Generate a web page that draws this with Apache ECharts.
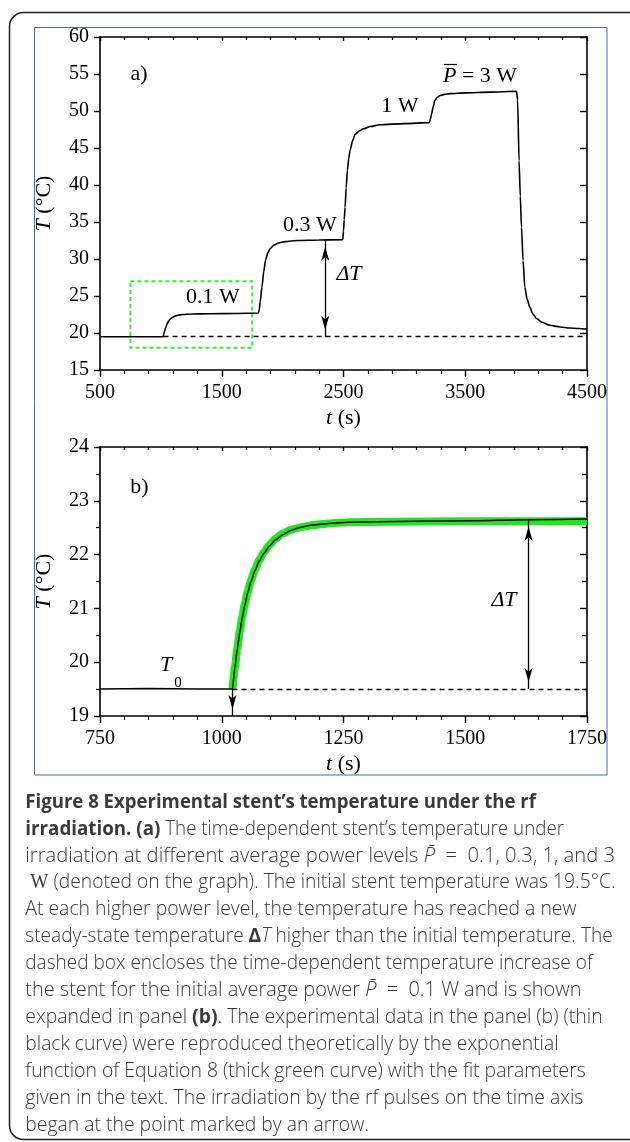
<!DOCTYPE html>
<html>
<head>
<meta charset="utf-8">
<script src="https://cdn.jsdelivr.net/npm/echarts@6/dist/echarts.min.js"></script>
<style>
  html, body { margin: 0; padding: 0; background: #fff; }
  #chart { width: 630px; height: 1142px; }
</style>
</head>
<body>
<div id="chart"></div>
<script>
// panel (a): stent temperature over the whole run (s, °C)
const timeA = [500, 1000, 1018, 1025, 1032, 1040, 1050, 1062, 1075, 1090,
  1110, 1140, 1180, 1250, 1400, 1600, 1802, 1808, 1816, 1830,
  1845, 1860, 1880, 1900, 1930, 1966, 2020, 2117, 2300, 2494,
  2500, 2506, 2513, 2522, 2532, 2543, 2554, 2575, 2595, 2630,
  2663, 2720, 2800, 3000, 3204, 3214, 3224, 3237, 3251, 3270,
  3292, 3330, 3374, 3500, 3700, 3921, 3930, 3942, 3952, 3962,
  3975, 3989, 4008, 4030, 4055, 4085, 4130, 4194, 4280, 4358,
  4430, 4500];
const tempA = [19.5, 19.5, 19.5, 19.85, 20.3, 20.75, 21.2, 21.6, 21.85, 22.05,
  22.25, 22.4, 22.5, 22.57, 22.6, 22.64, 22.7, 23.2, 24.2, 26.2,
  28.3, 29.9, 30.9, 31.45, 31.9, 32.16, 32.35, 32.5, 32.57, 32.6,
  33.8, 35.3, 37.0, 39.6, 42.0, 43.6, 44.7, 46.0, 46.85, 47.3,
  47.6, 47.9, 48.15, 48.3, 48.43, 48.9, 49.65, 50.6, 51.45, 51.85,
  52.1, 52.25, 52.35, 52.45, 52.55, 52.66, 51.5, 43.3, 38.5, 34.3,
  29.8, 26.2, 24.6, 23.5, 22.6, 21.95, 21.45, 21.04, 20.82, 20.68,
  20.6, 20.53];

// panel (b): the 0.1 W step, measured (thin black)
const timeB = [750, 850, 950, 1022, 1027, 1032, 1037, 1042, 1047, 1053,
  1060, 1068, 1077, 1087, 1098, 1110, 1125, 1142, 1162, 1188,
  1220, 1260, 1320, 1400, 1500, 1630, 1750];
const tempB = [19.5, 19.51, 19.5, 19.5, 19.9, 20.25, 20.55, 20.82, 21.05, 21.28,
  21.5, 21.7, 21.88, 22.03, 22.16, 22.27, 22.37, 22.45, 22.51, 22.55,
  22.58, 22.6, 22.61, 22.62, 22.63, 22.65, 22.66];

// panel (b): exponential fit (thick green)
const timeFit = [1022, 1027, 1032, 1037, 1042, 1047, 1053, 1060, 1068, 1077,
  1087, 1098, 1110, 1125, 1142, 1162, 1188, 1220, 1260, 1350, 1500, 1750];
const tempFit = [19.5, 19.9, 20.26, 20.57, 20.84, 21.07, 21.3, 21.52, 21.72, 21.9,
  22.05, 22.18, 22.29, 22.39, 22.46, 22.51, 22.55, 22.58, 22.6, 22.61, 22.62, 22.62];

// tick labels
const xTicksA = [500, 1500, 2500, 3500, 4500];
const yTicksA = [15, 20, 25, 30, 35, 40, 45, 50, 55, 60];
const xTicksB = [750, 1000, 1250, 1500, 1750];
const yTicksB = [19, 20, 21, 22, 23, 24];

// annotations
const T0 = 19.5;                 // initial temperature
const pulseStart = 1022;         // rf irradiation begins (arrow in b)
const arrowA = [2350, 32.6];     // ΔT arrow in (a)
const arrowB = [1630, 22.65];    // ΔT arrow in (b)
const zoomBox = [[750, 27], [1750, 18]];

const zip = (xs, ys) => xs.map((x, i) => [x, ys[i]]);

const SERIF = '"Liberation Serif", "Times New Roman", serif';
const axisColor = '#000';

function xAxes(grid, ticks) {
  const min = ticks[0], max = ticks[ticks.length - 1], interval = ticks[1] - ticks[0];
  const common = {
    gridIndex: grid, type: 'value', min, max, interval,
    splitLine: { show: false },
    axisLine: { onZero: false, lineStyle: { color: axisColor, width: 1.6 } },
    minorTick: { show: true, splitNumber: 5, length: 4, lineStyle: { color: axisColor, width: 1.2 } }
  };
  return [
    Object.assign({}, common, {
      position: 'bottom',
      axisTick: { inside: false, length: 7, lineStyle: { color: axisColor, width: 1.4 } },
      axisLabel: { margin: 13, fontFamily: SERIF, fontSize: 20, color: '#000', formatter: v => String(v) },
      name: '{i|t} (s)', nameLocation: 'middle', nameGap: 37,
      nameTextStyle: { fontFamily: SERIF, fontSize: 22, color: '#000',
        rich: { i: { fontFamily: SERIF, fontSize: 22, fontStyle: 'italic', color: '#000' } } }
    }),
    Object.assign({}, common, {
      position: 'top',
      axisTick: { inside: true, length: 4, lineStyle: { color: axisColor, width: 1.4 } },
      minorTick: { show: true, splitNumber: 5, length: 3, lineStyle: { color: axisColor, width: 1.2 } },
      axisLabel: { show: false }
    })
  ];
}

function yAxes(grid, ticks, minorSplit) {
  const min = ticks[0], max = ticks[ticks.length - 1], interval = ticks[1] - ticks[0];
  const common = {
    gridIndex: grid, type: 'value', min, max, interval,
    splitLine: { show: false },
    axisLine: { onZero: false, lineStyle: { color: axisColor, width: 1.6 } },
    minorTick: { show: minorSplit > 1, splitNumber: minorSplit, length: 4, lineStyle: { color: axisColor, width: 1.2 } }
  };
  return [
    Object.assign({}, common, {
      position: 'left',
      axisTick: { inside: false, length: 6, lineStyle: { color: axisColor, width: 1.4 } },
      axisLabel: { margin: 11, fontFamily: SERIF, fontSize: 20, color: '#000', formatter: v => String(v) },
      name: '{i|T} (°C)', nameLocation: 'middle', nameRotate: 90, nameGap: 45,
      nameTextStyle: { fontFamily: SERIF, fontSize: 22, color: '#000',
        rich: { i: { fontFamily: SERIF, fontSize: 22, fontStyle: 'italic', color: '#000' } } }
    }),
    Object.assign({}, common, {
      position: 'right',
      axisTick: { inside: true, length: 7, lineStyle: { color: axisColor, width: 1.4 } },
      minorTick: { show: minorSplit > 1, splitNumber: minorSplit, length: 5, lineStyle: { color: axisColor, width: 1.2 } },
      axisLabel: { show: false }
    })
  ];
}

const arrowEnd = { symbol: 'arrow', symbolSize: [6, 14], symbolOffset: [0, 7] };
const dashed = { color: '#000', width: 1.3, type: [5, 4] };

// ---- caption ----
const CAP = '"Open Sans", "Noto Sans", sans-serif';
const capSize = 20;
const capFonts = {
  n: `normal 300 ${capSize}px ${CAP}`,
  b: `normal 700 ${capSize}px ${CAP}`,
  i: `italic 300 ${capSize}px ${CAP}`,
  s: `normal 400 ${capSize}px ${SERIF}`
};
const capRich = {
  b: { fontFamily: CAP, fontSize: capSize, fontWeight: 700, color: '#1a1a1a' },
  i: { fontFamily: CAP, fontSize: capSize, fontWeight: 300, fontStyle: 'italic', color: '#3a3a3a' },
  s: { fontFamily: SERIF, fontSize: capSize, color: '#3a3a3a' }
};
const captionLines = [
  [['b', 'Figure 8 Experimental stent’s temperature under the rf']],
  [['b', 'irradiation. (a)'], ['n', ' The time-dependent stent’s temperature under']],
  [['n', 'irradiation at different average power levels '], ['i', 'P̄'], ['n', '  =  0.1, 0.3, 1, and 3']],
  [['n', ' '], ['s', 'W'], ['n', ' (denoted on the graph). The initial stent temperature was 19.5°C.']],
  [['n', 'At each higher power level, the temperature has reached a new']],
  [['n', 'steady-state temperature '], ['b', 'Δ'], ['i', 'T'], ['n', ' higher than the initial temperature. The']],
  [['n', 'dashed box encloses the time-dependent temperature increase of']],
  [['n', 'the stent for the initial average power '], ['i', 'P̄'], ['n', '  =  0.1 W and is shown']],
  [['n', 'expanded in panel '], ['b', '(b)'], ['n', '. The experimental data in the panel (b) (thin']],
  [['n', 'black curve) were reproduced theoretically by the exponential']],
  [['n', 'function of Equation 8 (thick green curve) with the fit parameters']],
  [['n', 'given in the text. The irradiation by the rf pulses on the time axis']],
  [['n', 'began at the point marked by an arrow.']]
];
const captionRight = [536, 564, 615, 615.5, 576.5, 612.7, 592.6, 581.4, 602.6, 558.5, 585.8, 583.4, 368.8];
const capLeft = 25.3, capTop = 802, capStep = 26.9;

const mctx = document.createElement('canvas').getContext('2d');
function segWidth(segs) {
  return segs.reduce((w, [k, t]) => { mctx.font = capFonts[k]; return w + mctx.measureText(t).width; }, 0);
}
function segText(segs) {
  return segs.map(([k, t]) => k === 'n' ? t : `{${k}|${t}}`).join('');
}

const captionGraphics = captionLines.map((segs, i) => ({
  type: 'text',
  x: capLeft, y: capTop + i * capStep,
  scaleX: (captionRight[i] - capLeft) / segWidth(segs),
  style: {
    text: segText(segs), rich: capRich,
    fontFamily: CAP, fontSize: capSize, fontWeight: 300, fill: '#3a3a3a',
    textAlign: 'left', textVerticalAlign: 'middle'
  }
}));

function label(text, x, y, opts) {
  return {
    type: 'text', x, y,
    style: Object.assign({
      text, fontFamily: SERIF, fontSize: 22, fill: '#000',
      textAlign: 'center', textVerticalAlign: 'middle'
    }, opts || {})
  };
}

const chart = echarts.init(document.getElementById('chart'));

const option = {
  animation: false,
  backgroundColor: '#fff',
  grid: [
    { left: 100, top: 37, width: 487, height: 333 },
    { left: 100, top: 447, width: 487, height: 269 }
  ],
  xAxis: [...xAxes(0, xTicksA), ...xAxes(1, xTicksB)],
  yAxis: [...yAxes(0, yTicksA, 1), ...yAxes(1, yTicksB, 2)],
  series: [
    {
      type: 'line', xAxisIndex: 0, yAxisIndex: 0,
      data: zip(timeA, tempA),
      showSymbol: false, smooth: 0.25, smoothMonotone: 'x',
      lineStyle: { color: '#000', width: 1.6 },
      markArea: {
        silent: true,
        itemStyle: { color: 'rgba(0,0,0,0)', borderColor: '#33ee33', borderWidth: 2, borderType: [4, 3] },
        data: [[{ coord: zoomBox[0] }, { coord: zoomBox[1] }]]
      },
      markLine: {
        silent: true, symbol: ['none', 'none'], label: { show: false },
        lineStyle: { color: '#000', width: 1.3, type: 'solid' },
        data: [
          [{ coord: [pulseStart, T0], lineStyle: dashed }, { coord: [xTicksA[xTicksA.length - 1], T0] }],
          [Object.assign({ coord: [arrowA[0], T0] }, arrowEnd), Object.assign({ coord: arrowA }, arrowEnd)]
        ]
      }
    },
    {
      type: 'line', xAxisIndex: 2, yAxisIndex: 2,
      data: zip(timeFit, tempFit),
      showSymbol: false, smooth: 0.2, smoothMonotone: 'x',
      lineStyle: { color: '#22e622', width: 8, cap: 'butt' }
    },
    {
      type: 'line', xAxisIndex: 2, yAxisIndex: 2,
      data: zip(timeB, tempB),
      showSymbol: false, smooth: 0.2, smoothMonotone: 'x',
      lineStyle: { color: '#000', width: 1.5 },
      markLine: {
        silent: true, symbol: ['none', 'none'], label: { show: false },
        lineStyle: { color: '#000', width: 1.3, type: 'solid' },
        data: [
          [{ coord: [pulseStart, T0], lineStyle: dashed }, { coord: [xTicksB[xTicksB.length - 1], T0] }],
          [Object.assign({ coord: [arrowB[0], T0] }, arrowEnd), Object.assign({ coord: arrowB }, arrowEnd)],
          [{ coord: [pulseStart, T0] }, Object.assign({ coord: [pulseStart, yTicksB[0]] }, arrowEnd)]
        ]
      }
    }
  ],
  graphic: [
    { type: 'rect', shape: { x: 9.5, y: 12.5, width: 640, height: 1127, r: 14 },
      style: { fill: 'none', stroke: '#222', lineWidth: 1.5 }, silent: true },
    { type: 'rect', shape: { x: 34.5, y: 27.5, width: 572.5, height: 747.5 },
      style: { fill: 'none', stroke: '#4d6d8e', lineWidth: 1 }, silent: true },
    label('a)', 139, 74),
    label('0.1 W', 213, 297),
    label('0.3 W', 310, 225),
    label('1 W', 400, 106.5),
    label('{i|P} = 3 W', 443, 76, { textAlign: 'left',
      rich: { i: { fontFamily: SERIF, fontSize: 22, fontStyle: 'italic', color: '#000' } } }),
    { type: 'line', shape: { x1: 444, y1: 64.5, x2: 457, y2: 64.5 }, style: { stroke: '#000', lineWidth: 1.2 } },
    label('ΔT', 349, 274, { fontStyle: 'italic' }),
    label('b)', 139.5, 487),
    label('ΔT', 504, 600, { fontStyle: 'italic' }),
    label('T', 166, 665, { fontStyle: 'italic' }),
    label('0', 178, 683, { fontSize: 15 }),
    ...captionGraphics
  ]
};

chart.setOption(option);
</script>
</body>
</html>
